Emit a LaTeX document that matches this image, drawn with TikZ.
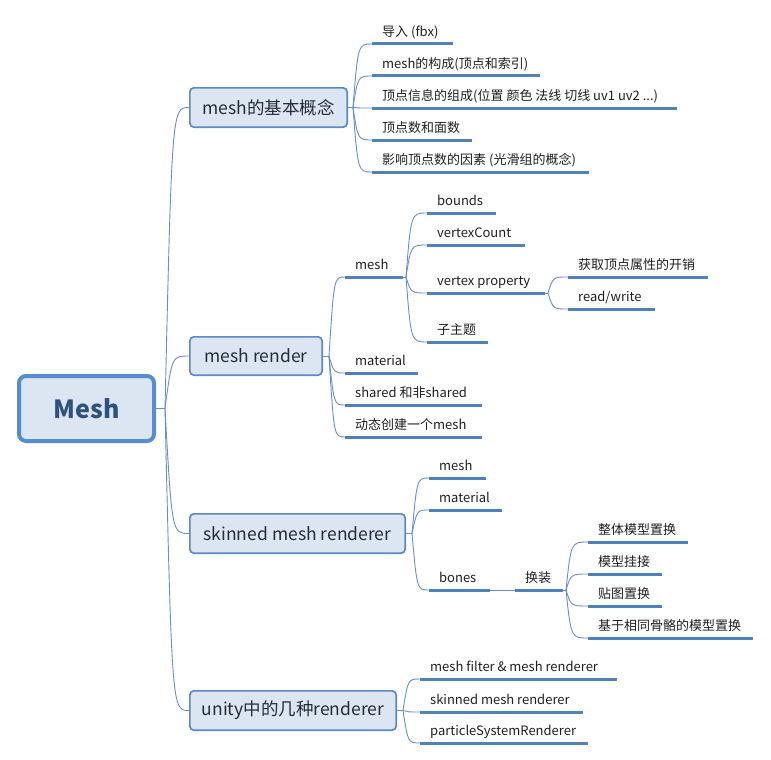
\documentclass[tikz,border=0pt]{standalone}
\usepackage{fontspec}
\setmainfont{Noto Sans CJK SC}
\usetikzlibrary{calc}
\definecolor{ulc}{RGB}{79,129,189}
\definecolor{lnc}{RGB}{106,143,197}
\definecolor{boxfill}{RGB}{220,230,242}
\definecolor{boxdraw}{RGB}{91,137,200}
\definecolor{rootdraw}{RGB}{84,141,212}
\definecolor{roottext}{RGB}{45,80,125}
\definecolor{l1text}{RGB}{38,44,54}
\tikzset{
  leaf/.style={anchor=south west, inner xsep=10pt, inner ysep=7pt, text height=10pt, text depth=0pt,
    font=\fontsize{13}{15}\selectfont, text=black!88},
  uline/.style={draw=ulc, line width=3pt},
  tline/.style={draw=lnc, line width=0.9pt},
  lone/.style={draw=boxdraw, line width=1.7pt, fill=boxfill, rounded corners=4pt, inner sep=0pt,
    font=\fontsize{17.5}{20}\selectfont, text=l1text},
  rootbox/.style={draw=rootdraw, line width=4pt, fill=boxfill, rounded corners=7pt, inner sep=0pt,
    font=\fontsize{25}{28}\selectfont\bfseries, text=roottext}
}
\newcommand\leaf[5]{\node[leaf, minimum width={(#3-#2)*1pt}] (#1) at (#2,#4) {\makebox[\dimexpr #3pt-#2pt-20pt\relax][l]{#5}};}
\newcommand\br[2]{\draw[tline] (#1) .. controls ($(#1|-#2.south west)+(5,0)$) .. (#2.south west);}
\newcommand\brl[2]{\draw[tline] (#1) .. controls ($(#1|-#2.west)+(7,0)$) .. (#2.west);}
\begin{document}
\begin{tikzpicture}[x=1pt,y=-1pt]
\useasboundingbox (0,0) rectangle (771,760);
% root and level-1
\node[rootbox, minimum width=135pt, minimum height=65pt] (root) at (86.5,408.5) {Mesh};
\node[lone, minimum width=157.3pt, minimum height=39.3pt] (la) at (268.5,107.5) {mesh的基本概念};
\node[lone, minimum width=132.3pt, minimum height=38.3pt] (lb) at (256,356) {mesh render};
\node[lone, minimum width=215.3pt, minimum height=39.3pt] (lc) at (297.5,533.5) {skinned mesh renderer};
\node[lone, minimum width=206.3pt, minimum height=39.3pt] (ld) at (293,710.5) {unity中的几种renderer};
% leaves
\leaf{a1}{372}{453}{44}{导入 (fbx)}
\leaf{a2}{372}{540}{76}{mesh的构成(顶点和索引)}
\leaf{a3}{372}{677}{108}{顶点信息的组成(位置 颜色 法线 切线 uv1 uv2 ...)}
\leaf{a4}{372}{472}{140}{顶点数和面数}
\leaf{a5}{372}{589}{172}{影响顶点数的因素 (光滑组的概念)}
\leaf{b1}{345}{403}{277}{mesh}
\leaf{b2}{345}{418}{373}{material}
\leaf{b3}{345}{482}{405}{shared 和非shared}
\leaf{b4}{345}{482}{437}{动态创建一个mesh}
\leaf{c1}{427}{496}{213}{bounds}
\leaf{c2}{427}{525}{245}{vertexCount}
\leaf{c3}{427}{545}{293}{vertex property}
\leaf{c4}{427}{488}{342}{子主题}
\leaf{d1}{568}{708}{277}{获取顶点属性的开销}
\leaf{d2}{568}{655}{309}{read/write}
\leaf{e1}{429}{486}{478}{mesh}
\leaf{e2}{429}{502}{510}{material}
\leaf{e3}{429}{490}{590}{bones}
\leaf{f1}{515}{563}{590}{换装}
\leaf{g1}{588}{688}{542}{整体模型置换}
\leaf{g2}{588}{662}{574}{模型挂接}
\leaf{g3}{588}{662}{606}{贴图置换}
\leaf{g4}{588}{753}{638}{基于相同骨骼的模型置换}
\leaf{h1}{420}{617}{679}{mesh filter \& mesh renderer}
\leaf{h2}{420}{583}{712}{skinned mesh renderer}
\leaf{h3}{420}{588}{743}{particleSystemRenderer}
% junctions
\coordinate (j0) at (165,408.5);
\coordinate (j1) at (353,107.5);
\coordinate (j2) at (329,356);
\coordinate (jb) at (406,277);
\coordinate (jc) at (548,293);
\coordinate (j3) at (412,533.5);
\coordinate (jf) at (566,590);
\coordinate (j4) at (403,710.5);
% connectors
\draw[tline] (root.east) -- (j0);
\foreach \n in {la,lb,lc,ld} {\brl{j0}{\n}}
\draw[tline] (la.east) -- (j1);
\foreach \n in {a1,a2,a3,a4,a5} {\br{j1}{\n}}
\draw[tline] (lb.east) -- (j2);
\foreach \n in {b1,b2,b3,b4} {\br{j2}{\n}}
\draw[tline] (b1.south east) -- (jb);
\foreach \n in {c1,c2,c3,c4} {\br{jb}{\n}}
\draw[tline] (c3.south east) -- (jc);
\foreach \n in {d1,d2} {\br{jc}{\n}}
\draw[tline] (lc.east) -- (j3);
\foreach \n in {e1,e2,e3} {\br{j3}{\n}}
\draw[tline] (e3.south east) -- (f1.south west);
\draw[tline] (f1.south east) -- (jf);
\foreach \n in {g1,g2,g3,g4} {\br{jf}{\n}}
\draw[tline] (ld.east) -- (j4);
\foreach \n in {h1,h2,h3} {\br{j4}{\n}}
% underlines
\foreach \n in {a1,a2,a3,a4,a5,b1,b2,b3,b4,c1,c2,c3,c4,d1,d2,e1,e2,e3,f1,g1,g2,g3,g4,h1,h2,h3}
  {\draw[uline] (\n.south west) -- (\n.south east);}
\end{tikzpicture}
\end{document}
